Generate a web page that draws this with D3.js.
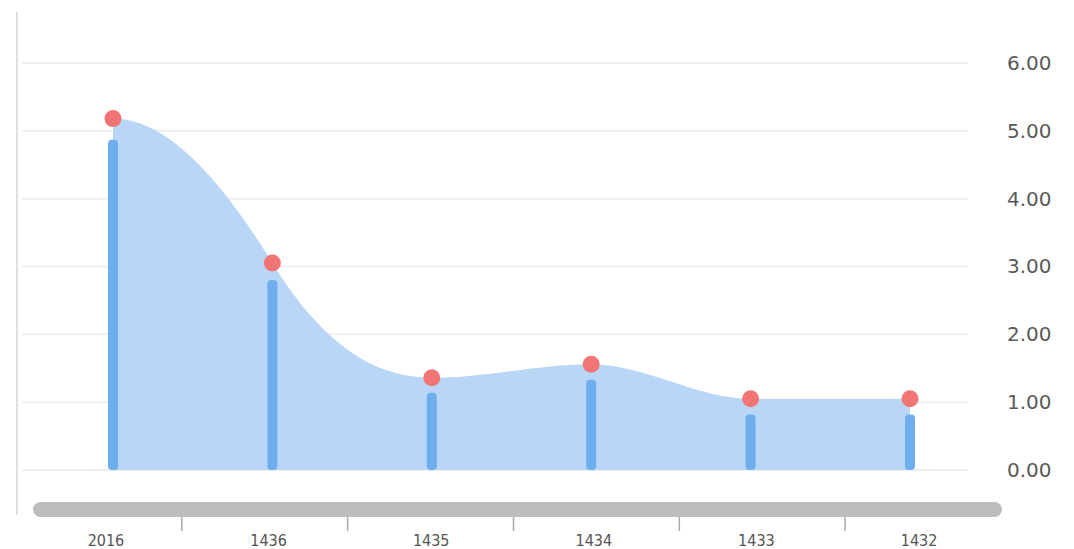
<!DOCTYPE html>
<html><head><meta charset="utf-8">
<script src="https://cdn.jsdelivr.net/npm/d3@7"></script>
<style>body{margin:0;background:#fff;}svg{display:block;}</style>
</head><body>
<svg id="c" width="1074" height="549"></svg>
<script>
const categories = ["2016", "1436", "1435", "1434", "1433", "1432"];
const barValues = [4.87, 2.8, 1.14, 1.33, 0.82, 0.82];
const lineValues = [5.18, 3.05, 1.36, 1.56, 1.05, 1.05];
const yTicks = [0, 1, 2, 3, 4, 5, 6];

const svg = d3.select("#c");
const y = d3.scaleLinear().domain([0, 6]).range([470, 63]);
const x = d3.scalePoint().domain(categories).range([113, 910]);
const xb = d3.scaleBand().domain(categories).range([16, 1011]);

// Hermite smoothing curve: flat tangents at ends and local extremes
function smoothCurve(context) {
  let pts = [], line = NaN;
  return {
    areaStart() { line = 0; },
    areaEnd() { line = NaN; },
    lineStart() { pts = []; },
    point(px, py) { pts.push([+px, +py]); },
    lineEnd() {
      const n = pts.length;
      const m = pts.map((p, i) => {
        if (i === 0 || i === n - 1) return 0;
        const a = p[1] - pts[i - 1][1], b = pts[i + 1][1] - p[1];
        if (a * b <= 0) return 0;
        return 2.0 * (pts[i + 1][1] - pts[i - 1][1]) / (pts[i + 1][0] - pts[i - 1][0]);
      });
      pts.forEach((p, i) => {
        if (i === 0) { line ? context.lineTo(p[0], p[1]) : context.moveTo(p[0], p[1]); return; }
        const q = pts[i - 1], h = (p[0] - q[0]) / 3;
        context.bezierCurveTo(q[0] + h, q[1] + m[i - 1] * h, p[0] - h, p[1] - m[i] * h, p[0], p[1]);
      });
      if (line || (line !== 0 && n === 1)) context.closePath();
      line = 1 - line;
    }
  };
}

// left axis line
svg.append("line").attr("x1", 17).attr("x2", 17).attr("y1", 12).attr("y2", 515)
  .attr("stroke", "#e0e0e0").attr("stroke-width", 2);

// gridlines
svg.append("g").selectAll("line").data(yTicks).join("line")
  .attr("x1", 22).attr("x2", 968)
  .attr("y1", d => y(d)).attr("y2", d => y(d))
  .attr("stroke", "#eeeeee").attr("stroke-width", 2);

// right axis labels
const yAxis = d3.axisRight(y).tickValues(yTicks).tickFormat(d3.format(".2f")).tickSize(0).tickPadding(0);
const ya = svg.append("g").attr("transform", "translate(1007,0)").call(yAxis);
ya.select(".domain").remove();
ya.selectAll("text").attr("font-family", "'DejaVu Sans', sans-serif").attr("font-size", 20).attr("fill", "#5a5a5a");

// area
const area = d3.area().x((d, i) => x(categories[i])).y0(y(0)).y1(d => y(d)).curve(smoothCurve);
svg.append("path").datum(lineValues).attr("d", area).attr("fill", "#b9d6f6");

// bars
const bw = 10;
svg.append("g").selectAll("rect").data(barValues).join("rect")
  .attr("x", (d, i) => x(categories[i]) - bw / 2)
  .attr("width", bw)
  .attr("y", d => y(d))
  .attr("height", d => y(0) - y(d))
  .attr("rx", 4)
  .attr("fill", "#6eaeee");

// dots
svg.append("g").selectAll("circle").data(lineValues).join("circle")
  .attr("cx", (d, i) => x(categories[i]))
  .attr("cy", d => y(d))
  .attr("r", 8.5)
  .attr("fill", "#f27575");

// slider bar
svg.append("rect").attr("x", 33).attr("y", 502).attr("width", 969).attr("height", 15)
  .attr("rx", 7.5).attr("fill", "#bdbdbd");

// bottom axis ticks (band boundaries) and labels
const bounds = categories.slice(1).map(c => xb(c));
svg.append("g").selectAll("line").data(bounds).join("line")
  .attr("x1", d => d).attr("x2", d => d).attr("y1", 517).attr("y2", 531)
  .attr("stroke", "#aaa").attr("stroke-width", 1.5);

svg.append("g").selectAll("text").data(categories).join("text")
  .attr("x", (d, i) => (x(d) + xb(d) + xb.bandwidth() / 2) / 2)
  .attr("y", 546)
  .attr("text-anchor", "middle")
  .attr("font-family", "'DejaVu Sans Condensed', 'DejaVu Sans', sans-serif")
  .attr("font-size", 16)
  .attr("fill", "#555")
  .text(d => d);
</script>
</body></html>
